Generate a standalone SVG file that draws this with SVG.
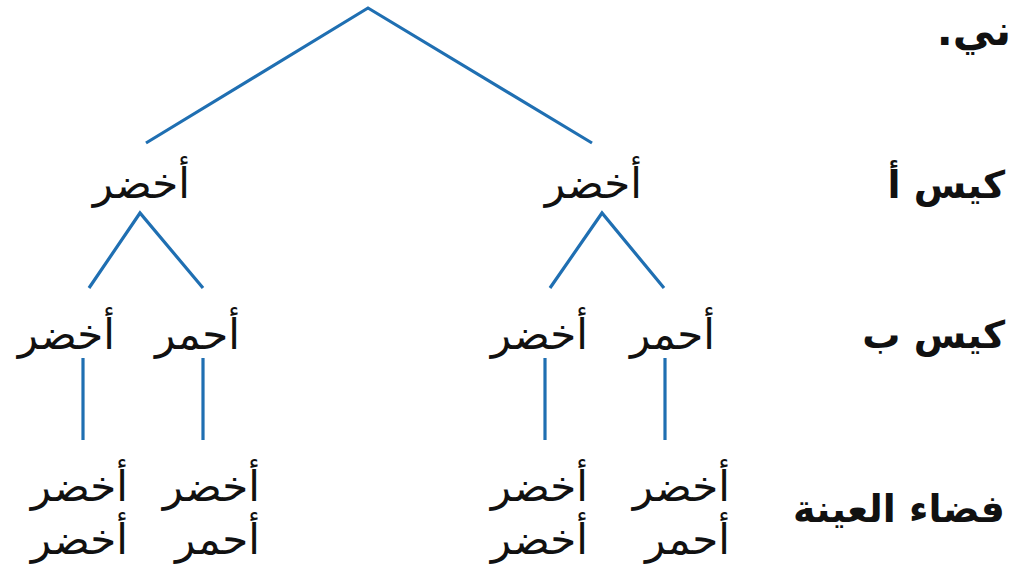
<svg xmlns="http://www.w3.org/2000/svg" width="1011" height="579" viewBox="0 0 1011 579">
<style>
.c{fill:none;stroke:#1f6fb2;stroke-width:3.2;stroke-linecap:butt;stroke-linejoin:miter}
text{font-family:"DejaVu Sans",sans-serif;font-size:42px;fill:#111111;direction:rtl;text-anchor:start}
.h{font-weight:bold;font-size:38px}
</style>
<rect width="1011" height="579" fill="#ffffff"/>
<g id="connectors">
<polyline class="c" points="146,143 368,8 592,143"/>
<polyline class="c" points="89,288 140,213 203,288"/>
<polyline class="c" points="550,288 602,213 664,288"/>
<line class="c" x1="83" y1="358" x2="83" y2="440"/>
<line class="c" x1="203" y1="358" x2="203" y2="440"/>
<line class="c" x1="545" y1="358" x2="545" y2="440"/>
<line class="c" x1="665" y1="358" x2="665" y2="440"/>
</g>
<g id="header"><text class="h" x="1011" y="45" style="font-size:42px">ني.</text></g>
<g id="row-labels">
<text id="lbl-a" class="h" x="1005" y="198">كيس أ</text>
<text id="lbl-b" class="h" x="1005" y="348">كيس ب</text>
<text id="lbl-s" class="h" x="1005" y="522">فضاء العينة</text>
</g>
<g id="n-a1"><text x="190" y="198">أخضر</text></g>
<g id="n-a2"><text x="642" y="198">أخضر</text></g>
<g id="n-b1"><text x="115" y="349">أخضر</text></g>
<g id="n-b2"><text x="240" y="349">أحمر</text></g>
<g id="n-b3"><text x="588" y="349">أخضر</text></g>
<g id="n-b4"><text x="715" y="349">أحمر</text></g>
<g id="n-s1"><text x="128" y="501">أخضر</text><text x="128" y="554">أخضر</text></g>
<g id="n-s2"><text x="260" y="501">أخضر</text><text x="260" y="554">أحمر</text></g>
<g id="n-s3"><text x="588" y="501">أخضر</text><text x="588" y="554">أخضر</text></g>
<g id="n-s4"><text x="730" y="501">أخضر</text><text x="730" y="554">أحمر</text></g>
</svg>
